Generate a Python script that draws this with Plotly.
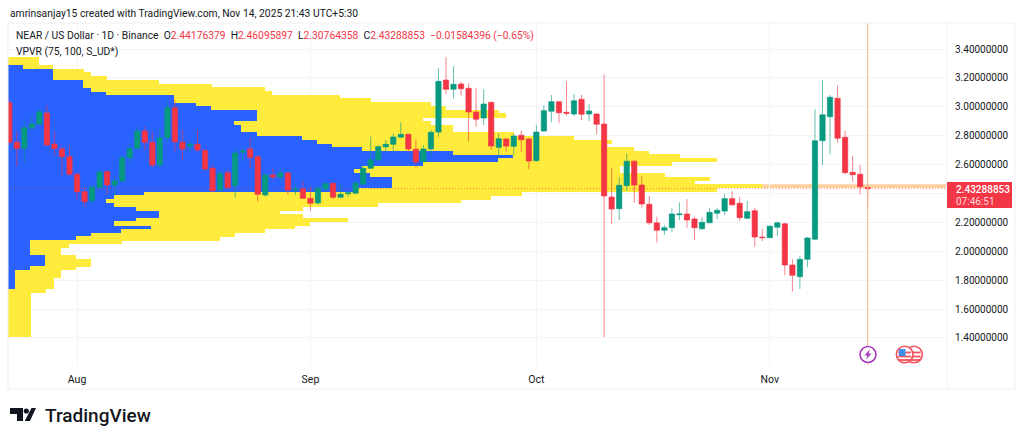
import pandas as pd
import plotly.graph_objects as go

dates = pd.date_range('2025-07-23', periods=115, freq='D')

opens = [3.028,2.754,2.712,2.851,2.879,2.957,2.742,2.708,2.654,2.533,
2.412,2.350,2.441,2.551,2.458,2.486,2.647,2.712,2.832,2.754,
2.597,2.786,2.994,2.754,2.726,2.740,2.699,2.574,2.424,2.544,
2.452,2.685,2.708,2.654,2.389,2.528,2.514,2.542,2.424,2.431,
2.366,2.334,2.431,2.470,2.373,2.398,2.401,2.463,2.574,2.632,
2.722,2.740,2.789,2.809,2.706,2.620,2.708,2.825,3.185,3.121,
3.158,3.128,2.964,2.922,3.031,2.719,2.777,2.726,2.803,2.777,
2.627,2.832,2.969,3.035,2.962,2.950,3.052,2.950,2.950,2.881,
2.375,2.294,2.454,2.623,2.458,2.325,2.197,2.145,2.163,2.253,
2.258,2.223,2.156,2.197,2.263,2.278,2.364,2.332,2.228,2.281,
2.098,2.094,2.166,2.190,1.905,1.824,1.944,2.083,2.765,2.931,
3.059,2.789,2.546,2.533,2.44176379]
highs = [3.047,2.827,2.897,2.931,2.978,3.012,2.832,2.728,2.735,2.546,
2.447,2.458,2.562,2.562,2.528,2.666,2.740,2.862,2.862,2.827,
2.853,3.040,3.047,2.844,2.763,2.839,2.701,2.597,2.555,2.562,
2.712,2.719,2.786,2.666,2.546,2.574,2.569,2.544,2.470,2.486,
2.452,2.452,2.486,2.474,2.472,2.417,2.493,2.585,2.793,2.735,
2.770,2.816,2.893,2.816,2.775,2.735,2.839,3.266,3.343,3.282,
3.174,3.163,3.128,3.121,3.033,2.816,2.782,2.816,2.834,2.786,
2.874,3.012,3.082,3.040,3.174,3.088,3.082,3.017,2.955,3.225,
2.578,2.512,2.678,2.632,2.521,2.382,2.239,2.182,2.297,2.339,
2.360,2.239,2.235,2.297,2.301,2.396,2.415,2.377,2.348,2.301,
2.154,2.179,2.204,2.197,1.944,1.969,2.100,2.983,3.185,3.082,
3.146,2.834,2.661,2.597,2.46095897]
lows = [2.735,2.585,2.609,2.849,2.877,2.731,2.661,2.516,2.516,2.355,
2.304,2.332,2.436,2.396,2.382,2.481,2.609,2.710,2.701,2.574,
2.574,2.754,2.689,2.632,2.689,2.689,2.551,2.412,2.422,2.436,
2.371,2.620,2.574,2.343,2.377,2.493,2.481,2.394,2.389,2.362,
2.281,2.320,2.424,2.362,2.368,2.376,2.398,2.458,2.572,2.625,
2.689,2.689,2.786,2.682,2.578,2.616,2.654,2.793,3.088,3.059,
3.077,2.758,2.862,2.874,2.701,2.643,2.689,2.666,2.689,2.567,
2.620,2.827,2.893,2.886,2.936,2.936,2.908,2.902,2.809,1.405,
2.188,2.216,2.417,2.336,2.301,2.182,2.059,2.112,2.135,2.216,
2.163,2.078,2.147,2.193,2.223,2.251,2.313,2.209,2.223,2.031,
2.071,2.092,2.105,1.833,1.720,1.739,1.889,2.078,2.597,2.671,
2.751,2.533,2.481,2.394,2.30764358]
closes = [2.754,2.712,2.855,2.883,2.966,2.735,2.712,2.654,2.533,2.412,
2.343,2.443,2.548,2.458,2.486,2.649,2.712,2.832,2.754,2.597,
2.786,2.994,2.758,2.708,2.740,2.701,2.569,2.419,2.539,2.440,
2.680,2.696,2.650,2.394,2.528,2.514,2.542,2.424,2.431,2.366,
2.332,2.436,2.467,2.373,2.394,2.405,2.472,2.574,2.634,2.724,
2.740,2.791,2.809,2.708,2.618,2.708,2.823,3.176,3.121,3.156,
3.125,2.964,2.913,3.019,2.728,2.779,2.728,2.798,2.772,2.625,
2.825,2.973,3.035,2.959,2.955,3.042,2.948,2.971,2.879,2.382,
2.292,2.456,2.623,2.458,2.327,2.197,2.145,2.163,2.258,2.258,
2.216,2.163,2.200,2.269,2.283,2.364,2.322,2.232,2.274,2.098,
2.094,2.173,2.197,1.905,1.833,1.944,2.092,2.765,2.945,3.066,
2.782,2.544,2.530,2.447,2.43288853]

# volume profile rows, top to bottom
vp_price = [3.327,3.301,3.275,3.249,3.224,3.198,3.172,3.146,3.120,3.095,
3.069,3.043,3.017,2.991,2.966,2.940,2.914,2.888,2.862,2.837,
2.811,2.785,2.759,2.733,2.708,2.682,2.656,2.630,2.604,2.579,
2.553,2.527,2.501,2.475,2.450,2.424,2.398,2.372,2.346,2.321,
2.295,2.269,2.243,2.217,2.192,2.166,2.140,2.114,2.088,2.063,
2.037,2.011,1.985,1.959,1.934,1.908,1.882,1.856,1.830,1.805,
1.779,1.753,1.727,1.701,1.676,1.650,1.624,1.598,1.572,1.547,
1.521,1.495,1.469,1.443,1.418]
vp_total = [30.7,30.7,45,76,83,98.7,151,204,257,264,
332,362.7,422.7,437.7,490.7,498,415,422.7,445,445,
506,566,603.7,599,626,641,671.7,709,663.7,612,
612,656.7,701.7,687,754,709,513.7,483,453,370,
294.7,272,294.7,339.7,302,287,257,227,212,113.7,
61,53.3,53.3,68,83.3,83.3,68,53.3,53.3,45.7,
45.7,45.7,38,22.7,22.7,22.7,22.7,22.7,22.7,22.7,
22.7,22.7,22.7,22.7,22.7]
vp_up = [0,0,14.7,45,45,45,75.3,75.3,82.7,98,
165.7,165.7,188.3,203.3,249,249,249,226,233,233,
249,294,309,324,354,445,505,490,415,354,
346,362,384,384,384,350,136,106,98,106,
128,150.7,150.7,128,106,143.3,113,82.7,68,22.3,
22.3,22.3,22.3,37.3,37.3,37.3,22.3,7.3,7.3,7.3,
7.3,7.3,0,0,0,0,0,0,0,0,
0,0,0,0,0]
vp_down = [t-u for t,u in zip(vp_total,vp_up)]
vp_row = 0.0258
vp_max = 938
poc_row = 34

price_ticks = [3.4,3.2,3.0,2.8,2.6,2.4,2.2,2.0,1.8,1.6,1.4]
price_labels = ['3.40000000','3.20000000','3.00000000','2.80000000','2.60000000','',
                '2.20000000','2.00000000','1.80000000','1.60000000','1.40000000']
month_ticks = ['2025-08-01','2025-09-01','2025-10-01','2025-11-01']
month_labels = ['Aug','Sep','Oct','Nov']

GREEN='#089981'
RED='#f23645'
BLUE='#2962ff'
YELLOW='#ffeb3b'
TEXT='#131722'
GRID='#f3f4f6'
FONT='Roboto'

# pane is 938x342 px inside the 1024x441 page, helpers turn page px into paper coords
def px(x):
    return (x-8)/938
def py(y):
    return (365-y)/342

def note(x,y,text,size=10.3,color=TEXT,weight=None):
    fig.add_annotation(x=px(x),y=py(y),xref='paper',yref='paper',text=text,showarrow=False,
                       xanchor='left',yanchor='middle',
                       font=dict(family=FONT,size=size,color=color,weight=weight),
                       align='left',borderpad=0)

def path(d_points,fill,line=None):
    d='M'+' L'.join(f'{px(x):.5f},{py(y):.5f}' for x,y in d_points)+' Z'
    fig.add_shape(type='path',path=d,xref='paper',yref='paper',fillcolor=fill,
                  line=dict(width=0 if line is None else 1,color=line or fill))

def circle(cx,cy,r,fill,line=None,lw=2):
    fig.add_shape(type='circle',xref='paper',yref='paper',x0=px(cx-r),x1=px(cx+r),y0=py(cy+r),y1=py(cy-r),
                  fillcolor=fill,line=dict(width=lw if line else 0,color=line or fill))

fig = go.Figure()
# bars a touch taller than the row so pixel rounding leaves no white seams
fig.add_trace(go.Bar(y=vp_price,x=vp_up,orientation='h',width=vp_row*1.12,marker=dict(color=BLUE,line_width=0),
                     showlegend=False,hoverinfo='skip'))
fig.add_trace(go.Bar(y=vp_price,x=vp_down,orientation='h',width=vp_row*1.12,marker=dict(color=YELLOW,line_width=0),
                     showlegend=False,hoverinfo='skip'))
# last price dots run over the profile but under the candles
fig.add_trace(go.Scatter(x=[0,vp_max],y=[closes[-1],closes[-1]],mode='lines',showlegend=False,hoverinfo='skip',
                         line=dict(color='rgba(242,54,69,0.55)',width=1,dash='1px 2px')))
fig.add_trace(go.Candlestick(x=dates,open=opens,high=highs,low=lows,close=closes,xaxis='x2',yaxis='y',
                             whiskerwidth=0,showlegend=False,
                             increasing=dict(fillcolor=GREEN,line=dict(color='rgba(8,153,129,0.62)',width=1)),
                             decreasing=dict(fillcolor=RED,line=dict(color='rgba(242,54,69,0.62)',width=1))))

fig.update_layout(
    width=1024,height=441,margin=dict(l=8,r=78,t=23,b=76),
    paper_bgcolor='white',plot_bgcolor='white',
    barmode='stack',bargap=0,boxgap=0.12,boxgroupgap=0.2,showlegend=False,
    font=dict(family=FONT,size=11,color=TEXT),
    xaxis=dict(range=[0,vp_max],visible=False,showgrid=False,fixedrange=True),
    xaxis2=dict(overlaying='x',side='bottom',anchor='y',type='date',range=['2025-07-22 20:00','2025-11-24 09:36'],
                tickvals=month_ticks,ticktext=month_labels,showgrid=True,gridcolor=GRID,gridwidth=1,
                rangeslider=dict(visible=False),ticks='outside',ticklen=4,tickcolor='rgba(0,0,0,0)',
                showline=False,zeroline=False,tickfont=dict(family=FONT,size=10.5,color=TEXT)),
    yaxis=dict(side='right',range=[1.2123,3.58],tickvals=price_ticks,ticktext=price_labels,showgrid=True,
               gridcolor=GRID,gridwidth=1,ticks='outside',ticklen=6,tickcolor='rgba(0,0,0,0)',
               showline=False,zeroline=False,tickfont=dict(family=FONT,size=10,color=TEXT)),
)

# POC band carried on to the price scale
fig.add_shape(type='rect',xref='x',yref='y',x0=vp_total[poc_row],x1=vp_max,
              y0=vp_price[poc_row]-vp_row/2,y1=vp_price[poc_row]+vp_row/2,
              fillcolor='#ffd09c',line_width=0,layer='below')
# crosshair on the last bar
fig.add_shape(type='line',xref='x2',yref='paper',x0=dates[-1],x1=dates[-1],y0=0,y1=1,
              line=dict(color='#f9b98c',width=1))

# outer frame and pane dividers
fig.add_shape(type='rect',xref='paper',yref='paper',x0=px(8),x1=px(1015),y0=py(389),y1=py(23),
              line=dict(color='#eeeff2',width=1))
fig.add_shape(type='line',xref='paper',yref='paper',x0=px(947),x1=px(947),y0=py(389),y1=py(23),
              line=dict(color='#f3f4f6',width=1))

note(9,13,'amrinsanjay15 created with TradingView.com, Nov 14, 2025 21:43 UTC+5:30')
note(15,36,f'NEAR / US Dollar · 1D · Binance  O<span style="color:{RED}">2.44176379</span>  '
           f'H<span style="color:{RED}">2.46095897</span>  L<span style="color:{RED}">2.30764358</span>  '
           f'C<span style="color:{RED}">2.43288853</span>  <span style="color:{RED}">−0.01584396 (−0.65%)</span>')
note(15,51,'VPVR (75, 100, S_UD*)')

# last price label
fig.add_shape(type='rect',xref='paper',yref='paper',x0=px(947),x1=px(1012),y0=py(208),y1=py(182),
              fillcolor=RED,line_width=0)
note(955,189,'2.43288853',size=10,color='white',weight=500)
note(955,201,'07:46:51',size=10,color='#ffd9dc')

# event icons under the last bar
circle(868,354.5,8,'white','#a63bc0',1.6)
path([(870,349),(864.5,355.5),(867.5,355.5),(866,360),(871.5,353.5),(868.5,353.5)],'#a63bc0')
for cx in (914,904.7):
    circle(cx,354.5,8.3,'white','#f4525f',1.6)
    for sy in (352.5,356.5,360):
        path([(cx-6.5,sy-0.9),(cx+6.5,sy-0.9),(cx+6.5,sy+0.9),(cx-6.5,sy+0.9)],'#f4525f')
path([(899,349),(905.5,349),(905.5,356),(899,356)],'#3f8fe8')

# TradingView logo
path([(10,408),(23,408),(23,421),(17,421),(17,414),(10,414)],'#131722')
circle(26.3,411,2.6,'#131722')
path([(31.5,408),(36,408),(30,421),(24.7,421)],'#131722')
note(44,415,'TradingView',size=19,color='#131722',weight=500)

fig.write_html("out.html",config=dict(displayModeBar=False),
               post_script="document.body.style.margin='0';document.body.style.overflow='hidden';")
